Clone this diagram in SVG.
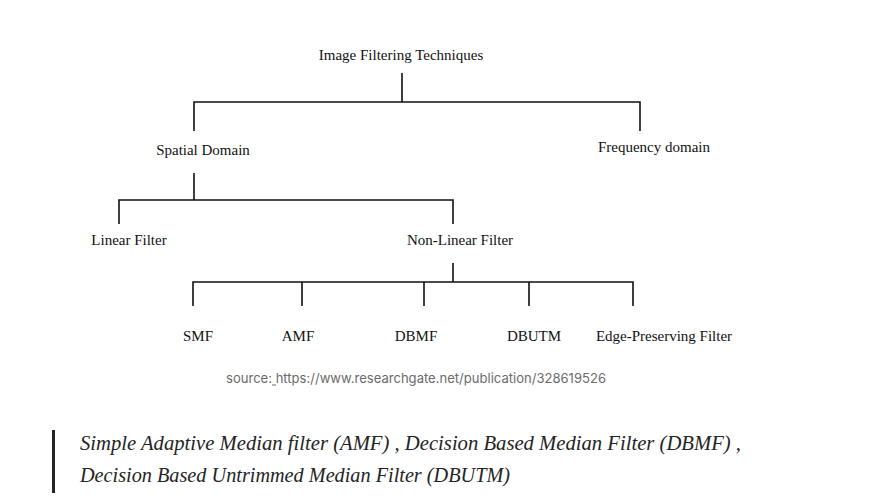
<svg xmlns="http://www.w3.org/2000/svg" width="873" height="501" viewBox="0 0 873 501">
<style>
.t{font-family:"Liberation Serif","Times New Roman",serif;font-size:15px;fill:#111}
.c{stroke:#111;stroke-width:1.6;fill:none}
.src{font-family:Inter,"Liberation Sans",sans-serif;font-size:13.5px;fill:#6b6b6b}
.q{font-family:"Liberation Serif",serif;font-style:italic;font-size:20px;fill:#242424}
</style>
<rect width="873" height="501" fill="#fff"/>
<g id="connectors">
<path class="c" d="M402 73V102M194 131V102H640V131"/>
<path class="c" d="M194 173V200M119 224V200H453V224"/>
<path class="c" d="M453 263V282M193 306V282H633V306M302 282V306M424 282V306M529 282V306"/>
</g>
<g id="n-root"><text class="t" x="401" y="60" text-anchor="middle">Image Filtering Techniques</text></g>
<g id="n-spatial"><text class="t" x="203" y="155" text-anchor="middle">Spatial Domain</text></g>
<g id="n-frequency"><text class="t" x="654" y="152" text-anchor="middle">Frequency domain</text></g>
<g id="n-linear"><text class="t" x="129" y="245" text-anchor="middle">Linear Filter</text></g>
<g id="n-nonlinear"><text class="t" x="460" y="245" text-anchor="middle">Non-Linear Filter</text></g>
<g id="n-smf"><text class="t" x="198" y="341" text-anchor="middle">SMF</text></g>
<g id="n-amf"><text class="t" x="298" y="341" text-anchor="middle">AMF</text></g>
<g id="n-dbmf"><text class="t" x="416" y="341" text-anchor="middle">DBMF</text></g>
<g id="n-dbutm"><text class="t" x="534" y="341" text-anchor="middle">DBUTM</text></g>
<g id="n-edge"><text class="t" x="664" y="341" text-anchor="middle">Edge-Preserving Filter</text></g>
<text class="src" x="226" y="383" textLength="380" lengthAdjust="spacingAndGlyphs">source: https://www.researchgate.net/publication/328619526</text>
<line x1="272" y1="385" x2="276" y2="385" stroke="#6b6b6b" stroke-width="1"/>
<rect x="52" y="430" width="3" height="63" fill="#242424"/>
<text class="q" x="80" y="450" textLength="661" lengthAdjust="spacingAndGlyphs">Simple Adaptive Median filter (AMF) , Decision Based Median Filter (DBMF) ,</text>
<text class="q" x="80" y="482" textLength="430" lengthAdjust="spacingAndGlyphs">Decision Based Untrimmed Median Filter (DBUTM)</text>
</svg>
